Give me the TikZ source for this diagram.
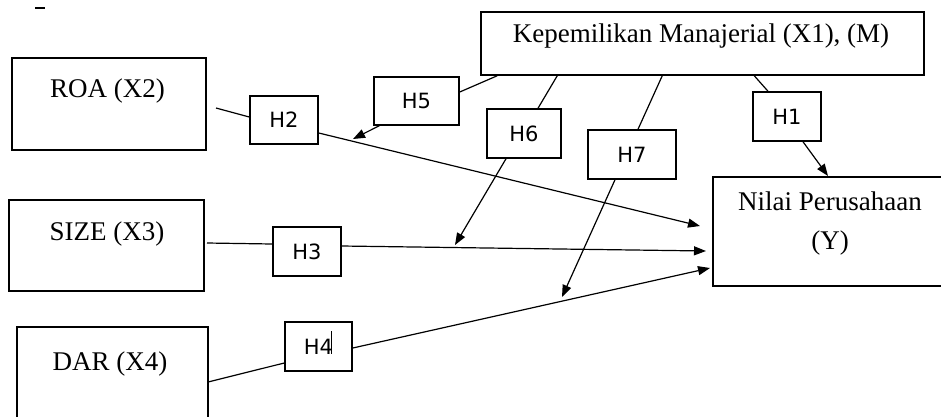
\documentclass[tikz,border=0pt]{standalone}
\usepackage{fontspec}
\setmainfont{Liberation Serif}
\newfontfamily\hfont{DejaVu Sans}
\usetikzlibrary{arrows.meta}
\begin{document}
\begin{tikzpicture}[x=1pt,y=-1pt,
  box/.style={draw, line width=1.5pt, inner sep=0pt},
  lab/.style={inner sep=0pt, font=\fontsize{27}{39}\selectfont},
  hbox/.style={draw, line width=1.5pt, inner sep=0pt, font=\hfont\fontsize{21}{24}\selectfont},
  conn/.style={line width=1.2pt},
  arr/.style={conn, -{Triangle[length=12pt,width=9pt]}}]
\useasboundingbox (0,0) rectangle (941,416);
\clip (0,0) rectangle (941,416);
% stray mark
\draw[line width=1.3pt] (35,8) -- (45,8);
% main boxes
\node[box, minimum width=443pt, minimum height=63pt] (K) at (702.5,43.5) {};
\node[lab] (Kt) at (701,36) {Kepemilikan Manajerial (X1), (M)};
\node[box, minimum width=194pt, minimum height=92pt] (X2) at (109,104) {};
\node[lab] (X2t) at (107.5,91) {ROA (X2)};
\node[box, minimum width=195pt, minimum height=91pt] (X3) at (106.5,245.5) {};
\node[lab] (X3t) at (107,234) {SIZE (X3)};
\node[box, minimum width=191pt, minimum height=95pt] (X4) at (112.5,374.5) {};
\node[lab] (X4t) at (110,364) {DAR (X4)};
\node[box, minimum width=234pt, minimum height=109pt] (Y) at (830,231.5) {};
\node[lab, align=center] (Yt) at (830,223) {Nilai Perusahaan\\(Y)};
% hypothesis boxes
\node[hbox, minimum width=85pt, minimum height=48pt] (H5) at (416.5,101) {H5};
\node[hbox, minimum width=68pt, minimum height=48pt] (H2) at (284,120) {H2};
\node[hbox, minimum width=74pt, minimum height=49pt] (H6) at (524,133.5) {H6};
\node[hbox, minimum width=88pt, minimum height=49pt] (H7) at (632,154.5) {H7};
\node[hbox, minimum width=68pt, minimum height=49pt] (H1) at (787,116.5) {H1};
\node[hbox, minimum width=68pt, minimum height=49pt] (H3) at (307,251.5) {H3};
\node[hbox, minimum width=67pt, minimum height=49pt] (H4) at (318.5,346.5) {H4};
\draw[line width=1pt] (331,331) -- (331,354);
% coordinates
\coordinate (k5) at ([xshift=17pt]K.south west);
\coordinate (k6) at ([xshift=77pt]K.south west);
\coordinate (k7) at ([xshift=182pt]K.south west);
\coordinate (k1) at ([xshift=274pt]K.south west);
\coordinate (t5) at (353,139);
\coordinate (t6) at (455,245);
\coordinate (t7) at (562,297);
\coordinate (t1) at (828,176);
\coordinate (x2s) at (216,108);
\coordinate (x3s) at (207,243);
\coordinate (x4s) at (208,382);
\coordinate (y2) at (700,226);
\coordinate (y3) at (706,251);
\coordinate (y4) at (710,268);
% connectors
\draw[conn] (k5) -- ([yshift=9pt]H5.east);
\draw[arr] ([xshift=6pt]H5.south west) -- (t5);
\draw[conn] (k6) -- ([xshift=14pt]H6.north);
\draw[arr] ([xshift=-18pt]H6.south) -- (t6);
\draw[conn] (k7) -- ([xshift=6pt]H7.north);
\draw[arr] ([xshift=-17pt]H7.south) -- (t7);
\draw[conn] (k1) -- ([xshift=-19pt]H1.north);
\draw[arr] ([xshift=16pt]H1.south) -- (t1);
\draw[conn] (x2s) -- ([yshift=3pt]H2.west);
\draw[arr] ([yshift=-13pt]H2.east) -- (y2);
\draw[conn] (x3s) -- ([yshift=7.5pt]H3.west);
\draw[arr] ([yshift=5.5pt]H3.east) -- (y3);
\draw[conn] (x4s) -- ([yshift=-16.5pt]H4.west);
\draw[arr] ([yshift=-1.5pt]H4.east) -- (y4);
\end{tikzpicture}
\end{document}
